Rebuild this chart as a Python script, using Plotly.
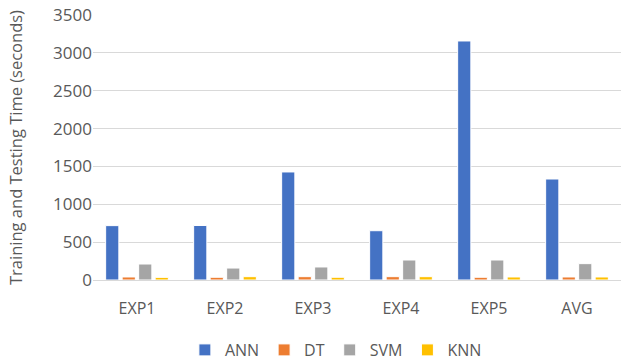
import plotly.graph_objects as go

categories = ["EXP1", "EXP2", "EXP3", "EXP4", "EXP5", "AVG"]
ann = [718, 720, 1427, 651, 3157, 1334]
dt = [40, 36, 44, 44, 36, 40]
svm = [211, 158, 172, 264, 264, 216]
knn = [35, 44, 36, 44, 40, 40]

series = [("ANN", ann, "#4472C4"), ("DT", dt, "#ED7D31"),
          ("SVM", svm, "#A5A5A5"), ("KNN", knn, "#FFC000")]

fig = go.Figure()
for name, vals, color in series:
    fig.add_trace(go.Bar(x=categories, y=vals, name=name,
                         marker=dict(color=color, line=dict(color="white", width=1))))

font = dict(family="Open Sans, Liberation Sans, sans-serif", color="#595959")
fig.update_layout(
    width=622, height=362,
    margin=dict(l=93, r=1, t=15, b=82, autoexpand=False),
    paper_bgcolor="white", plot_bgcolor="white",
    barmode="group", bargap=0.25, bargroupgap=0.2,
    font=dict(size=16, **font),
    showlegend=True,
    legend=dict(orientation="h", x=0.46, xanchor="center", y=-0.2, yanchor="top",
                font=dict(size=16, **font), itemwidth=30, tracegroupgap=0),
    xaxis=dict(showgrid=False, showline=True, linecolor="#D9D9D9", linewidth=1,
               ticks="outside", ticklen=14, tickcolor="rgba(0,0,0,0)",
               tickfont=dict(size=16, **font)),
    yaxis=dict(range=[0, 3500], dtick=500, showgrid=True, gridcolor="#D9D9D9",
               gridwidth=1, zeroline=False, ticks="", tickfont=dict(size=17, **font),
               title=dict(text="Training and Testing Time (seconds)",
                          font=dict(size=16.5, **font), standoff=26)),
)

fig.write_html("out.html")
